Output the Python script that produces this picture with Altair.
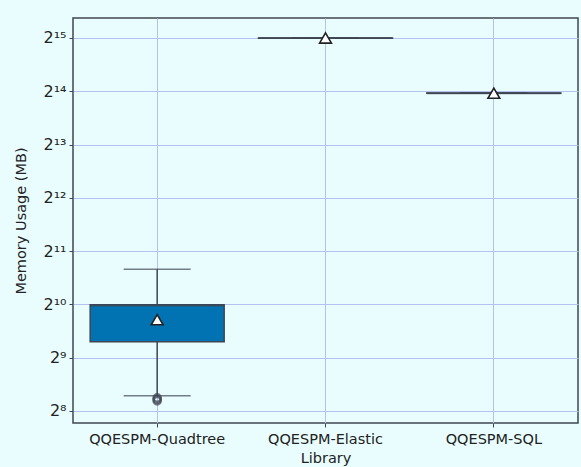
import altair as alt
import pandas as pd

# Memory usage (MB) per library
libraries = ["QQESPM-Quadtree", "QQESPM-Elastic", "QQESPM-SQL"]
q1 = [630, 32700, 15950]
median = [1010, 32768, 15980]
q3 = [1020, 32800, 16000]
whisker_low = [312, 32700, 15950]
whisker_high = [1620, 32800, 16000]
means = [840, 32768, 15980]
outlier_lib = ["QQESPM-Quadtree", "QQESPM-Quadtree", "QQESPM-Quadtree"]
outlier_val = [292, 298, 304]

tick_values = [2 ** k for k in range(8, 16)]

stats = pd.DataFrame({
    "Library": libraries, "q1": q1, "median": median, "q3": q3,
    "lo": whisker_low, "hi": whisker_high, "mean": means,
})
outliers = pd.DataFrame({"Library": outlier_lib, "value": outlier_val})

BG = "#E9FDFE"
EDGE = "#3f4652"
GRID = "#b3c2ee"

sup = "['⁰','¹','²','³','⁴','⁵','⁶','⁷','⁸','⁹']"
k = "round(log(datum.value)/LN2)"
label_expr = f"'2' + ({k} >= 10 ? {sup}[floor({k}/10)] : '') + {sup}[{k} % 10]"

x = alt.X("Library:N", sort=libraries, title="Library",
          scale=alt.Scale(paddingInner=0.2, paddingOuter=0.1),
          axis=alt.Axis(labelAngle=0, grid=True, gridColor=GRID, gridWidth=1,
                        bandPosition=0.5, domain=False, tickColor=EDGE,
                        tickSize=4, labelPadding=5, titlePadding=6))
yscale = alt.Scale(type="log", base=2, domain=[219, 42500], nice=False)
yaxis = alt.Axis(values=tick_values, labelExpr=label_expr, grid=True,
                 gridColor=GRID, gridWidth=1, domain=False, tickColor=EDGE,
                 tickSize=4, labelFontSize=16, labelPadding=3, titlePadding=14)

base = alt.Chart(stats)

whisk = base.mark_rule(color=EDGE, strokeWidth=1.5).encode(
    x=x, y=alt.Y("lo:Q", scale=yscale, axis=yaxis, title="Memory Usage (MB)"),
    y2="hi:Q")

box = base.mark_bar(size=134, color="#0173B2", stroke=EDGE, strokeWidth=1.5).encode(
    x=x, y=alt.Y("q1:Q", scale=yscale), y2="q3:Q")

med = base.mark_tick(size=134, thickness=2, color=EDGE).encode(
    x=x, y=alt.Y("median:Q", scale=yscale))

cap_lo = base.mark_tick(size=67, thickness=1.5, color=EDGE).encode(
    x=x, y=alt.Y("lo:Q", scale=yscale))
cap_hi = base.mark_tick(size=67, thickness=1.5, color=EDGE).encode(
    x=x, y=alt.Y("hi:Q", scale=yscale))

outl = alt.Chart(outliers).mark_point(shape="circle", size=55, filled=False,
                                      color=EDGE, strokeWidth=2.2).encode(
    x=x, y=alt.Y("value:Q", scale=yscale))

mean_pt = base.mark_point(shape="triangle-up", size=140, filled=True,
                          fill="white", stroke="#222222", strokeWidth=1.6,
                          opacity=1).encode(
    x=x, y=alt.Y("mean:Q", scale=yscale))

chart = alt.layer(whisk, box, med, cap_lo, cap_hi, outl, mean_pt).properties(
    width=505, height=405,
    background=BG,
    padding={"left": 73, "top": 18, "right": 3, "bottom": 44},
    autosize=alt.AutoSizeParams(type="none"),
).configure_view(
    stroke=EDGE, strokeWidth=1.5, fill=BG,
).configure_axis(
    labelFont="DejaVu Sans", titleFont="DejaVu Sans", labelFontSize=14.5,
    titleFontSize=14.5, titleFontWeight="normal", labelColor="#222222",
    titleColor="#222222",
)

chart.save("out.html", embed_options={"renderer": "svg", "actions": False})
